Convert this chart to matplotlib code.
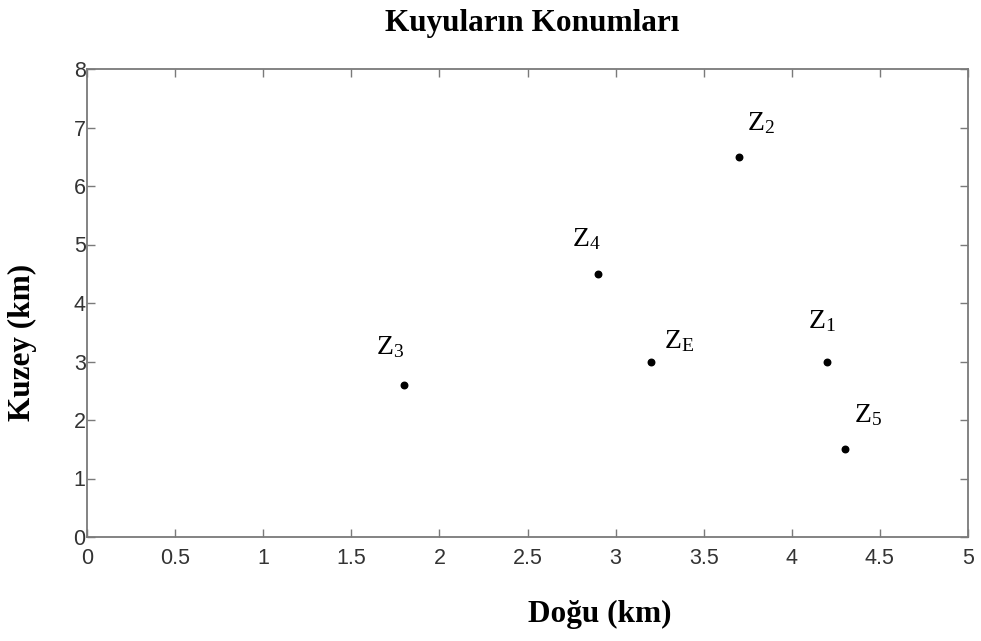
import matplotlib
matplotlib.use("Agg")
import matplotlib.pyplot as plt

plt.rcParams['mathtext.fontset'] = 'custom'
plt.rcParams['mathtext.rm'] = 'Liberation Serif'
plt.rcParams['mathtext.it'] = 'Liberation Serif:italic'

names = ["Z$_{1}$", "Z$_{2}$", "Z$_{3}$", "Z$_{4}$", "Z$_{5}$", "Z$_{\\mathrm{E}}$"]
east = [4.2, 3.7, 1.8, 2.9, 4.3, 3.2]
north = [3.0, 6.5, 2.6, 4.5, 1.5, 3.0]
label_offsets = [(-19, 40), (8, 34), (-28, 38), (-26, 35), (9, 34), (13, 20)]

xticks = [0, 0.5, 1, 1.5, 2, 2.5, 3, 3.5, 4, 4.5, 5]
xticklabels = ["0", "0.5", "1", "1.5", "2", "2.5", "3", "3.5", "4", "4.5", "5"]
yticks = [0, 1, 2, 3, 4, 5, 6, 7, 8]

fig = plt.figure(figsize=(9.81, 6.41), dpi=100)
ax = fig.add_axes([87/981, 1 - 537/641, (968-87)/981, (537-69)/641])

ax.scatter(east, north, s=22, color='black', zorder=3)
for n, x, y, off in zip(names, east, north, label_offsets):
    ax.annotate(n, (x, y), xytext=off, textcoords='offset pixels',
                fontsize=20, family='Liberation Serif', color='black',
                va='center', ha='left')

ax.set_xlim(0, 5)
ax.set_ylim(0, 8)
ax.set_xticks(xticks)
ax.set_xticklabels(xticklabels)
ax.set_yticks(yticks)
for s in ax.spines.values():
    s.set_color('#7a7a7a')
    s.set_linewidth(1.3)
ax.tick_params(direction='in', top=True, right=True, length=6, width=1,
               color='#7a7a7a', labelsize=15.5, labelcolor='#333333')
ax.tick_params(axis='x', pad=8)
ax.tick_params(axis='y', pad=1)
for lab in ax.get_xticklabels() + ax.get_yticklabels():
    lab.set_family('Liberation Sans')

fig.text(532/981, 1 - 24/641, "Kuyuların Konumları", ha='center', va='center',
         fontsize=22.5, fontweight='bold', family='Liberation Serif')
fig.text(600/981, 1 - 614/641, "Doğu (km)", ha='center', va='center',
         fontsize=22.5, fontweight='bold', family='Liberation Serif')
fig.text(22/981, 1 - 342/641, "Kuzey (km)", ha='center', va='center',
         rotation=90, fontsize=22.5, fontweight='bold', family='Liberation Serif')

fig.savefig("out.png", dpi=100)
